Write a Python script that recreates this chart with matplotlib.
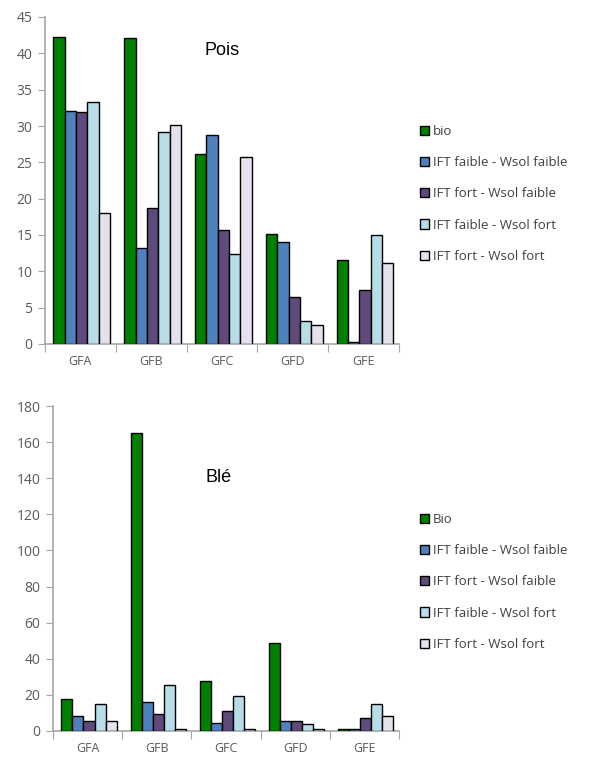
#!/usr/bin/env python3
# -*- coding: utf-8 -*-

"""Pois / Blé grouped bars, two panels with legend on the right."""

import numpy as np
import matplotlib
matplotlib.use("Agg")
import matplotlib.pyplot as plt
from matplotlib.patches import Patch


# ---------- Data ----------
groups = ["GFA", "GFB", "GFC", "GFD", "GFE"]

pois_labels = ["bio", "IFT faible - Wsol faible", "IFT fort - Wsol faible",
               "IFT faible - Wsol fort", "IFT fort - Wsol fort"]
ble_labels = ["Bio", "IFT faible - Wsol faible", "IFT fort - Wsol faible",
              "IFT faible - Wsol fort", "IFT fort - Wsol fort"]

pois_bio        = [42.3, 42.1, 26.1, 15.2, 11.6]
pois_faible_fai = [32.1, 13.2, 28.7, 14.1, 0.3]
pois_fort_fai   = [31.9, 18.7, 15.7, 6.5, 7.4]
pois_faible_for = [33.3, 29.2, 12.4, 3.2, 15.0]
pois_fort_for   = [18.0, 30.1, 25.7, 2.6, 11.1]

ble_bio        = [17.5, 164.9, 27.9, 48.6, 1.0]
ble_faible_fai = [8.3, 15.9, 4.6, 5.5, 1.0]
ble_fort_fai   = [5.5, 9.2, 11.1, 5.5, 7.4]
ble_faible_for = [14.8, 25.3, 19.6, 3.7, 14.8]
ble_fort_for   = [5.5, 1.0, 1.0, 1.0, 8.3]

colors = ["#008000", "#4F81BD", "#604A7B", "#B7DEE8", "#E6E0EC"]

TICK_COL = "#595959"
AXIS_COL = "#A6A6A6"


# ---------- Helpers ----------
def draw_panel(ax, series, ymax, ystep, title, title_xy):
    n = len(series)
    x = np.arange(len(groups))
    w = 0.16
    for i, vals in enumerate(series):
        ax.bar(x + (i - (n - 1) / 2) * w + 0.02, vals, width=w,
               color=colors[i], edgecolor="black", linewidth=1.0, zorder=3)

    ax.set_xlim(-0.5, len(groups) - 0.5)
    ax.set_ylim(0, ymax)
    ax.set_yticks(np.arange(0, ymax + 1, ystep))

    # category ticks at boundaries, labels in the middle
    ax.set_xticks(np.arange(len(groups) + 1) - 0.5)
    ax.set_xticklabels([])
    ax.set_xticks(x, minor=True)
    ax.set_xticklabels(groups, minor=True)
    ax.tick_params(axis="x", which="major", length=6, color=AXIS_COL,
                   direction="out")
    ax.tick_params(axis="x", which="minor", length=0, pad=8,
                   labelsize=9, labelcolor=TICK_COL)
    ax.tick_params(axis="y", length=5, color=AXIS_COL, direction="out",
                   labelsize=10, labelcolor=TICK_COL, pad=4)

    for s in ["top", "right"]:
        ax.spines[s].set_visible(False)
    for s in ["left", "bottom"]:
        ax.spines[s].set_color(AXIS_COL)
        ax.spines[s].set_linewidth(1.2)

    ax.text(title_xy[0], title_xy[1], title, transform=ax.transAxes,
            fontsize=13, color="black", family="Liberation Sans")


def add_legend(fig, labels, top):
    handles = [Patch(facecolor=c, edgecolor="black", linewidth=1.0)
               for c in colors]
    fig.legend(handles, labels, loc="upper left",
               bbox_to_anchor=(420 / 590, 1 - top / 758),
               frameon=False, fontsize=9.5, handlelength=0.7,
               handleheight=0.7, handletextpad=0.3, labelspacing=1.38,
               labelcolor="#404040", borderaxespad=0, borderpad=0)


# ---------- Plot ----------
plt.rcParams["font.family"] = ["Open Sans", "DejaVu Sans"]

fig = plt.figure(figsize=(5.9, 7.58), dpi=100)

W, H = 590, 758
ax1 = fig.add_axes([45 / W, 1 - 344 / H, (399 - 45) / W, (344 - 17) / H])
ax2 = fig.add_axes([53 / W, 1 - 731 / H, (399 - 53) / W, (731 - 406) / H])

draw_panel(ax1, [pois_bio, pois_faible_fai, pois_fort_fai,
                 pois_faible_for, pois_fort_for],
           45, 5, "Pois", (0.45, 0.885))
draw_panel(ax2, [ble_bio, ble_faible_fai, ble_fort_fai,
                 ble_faible_for, ble_fort_for],
           180, 20, "Blé", (0.44, 0.765))

add_legend(fig, pois_labels, 125)
add_legend(fig, ble_labels, 513)

fig.savefig("out.png", dpi=100)
